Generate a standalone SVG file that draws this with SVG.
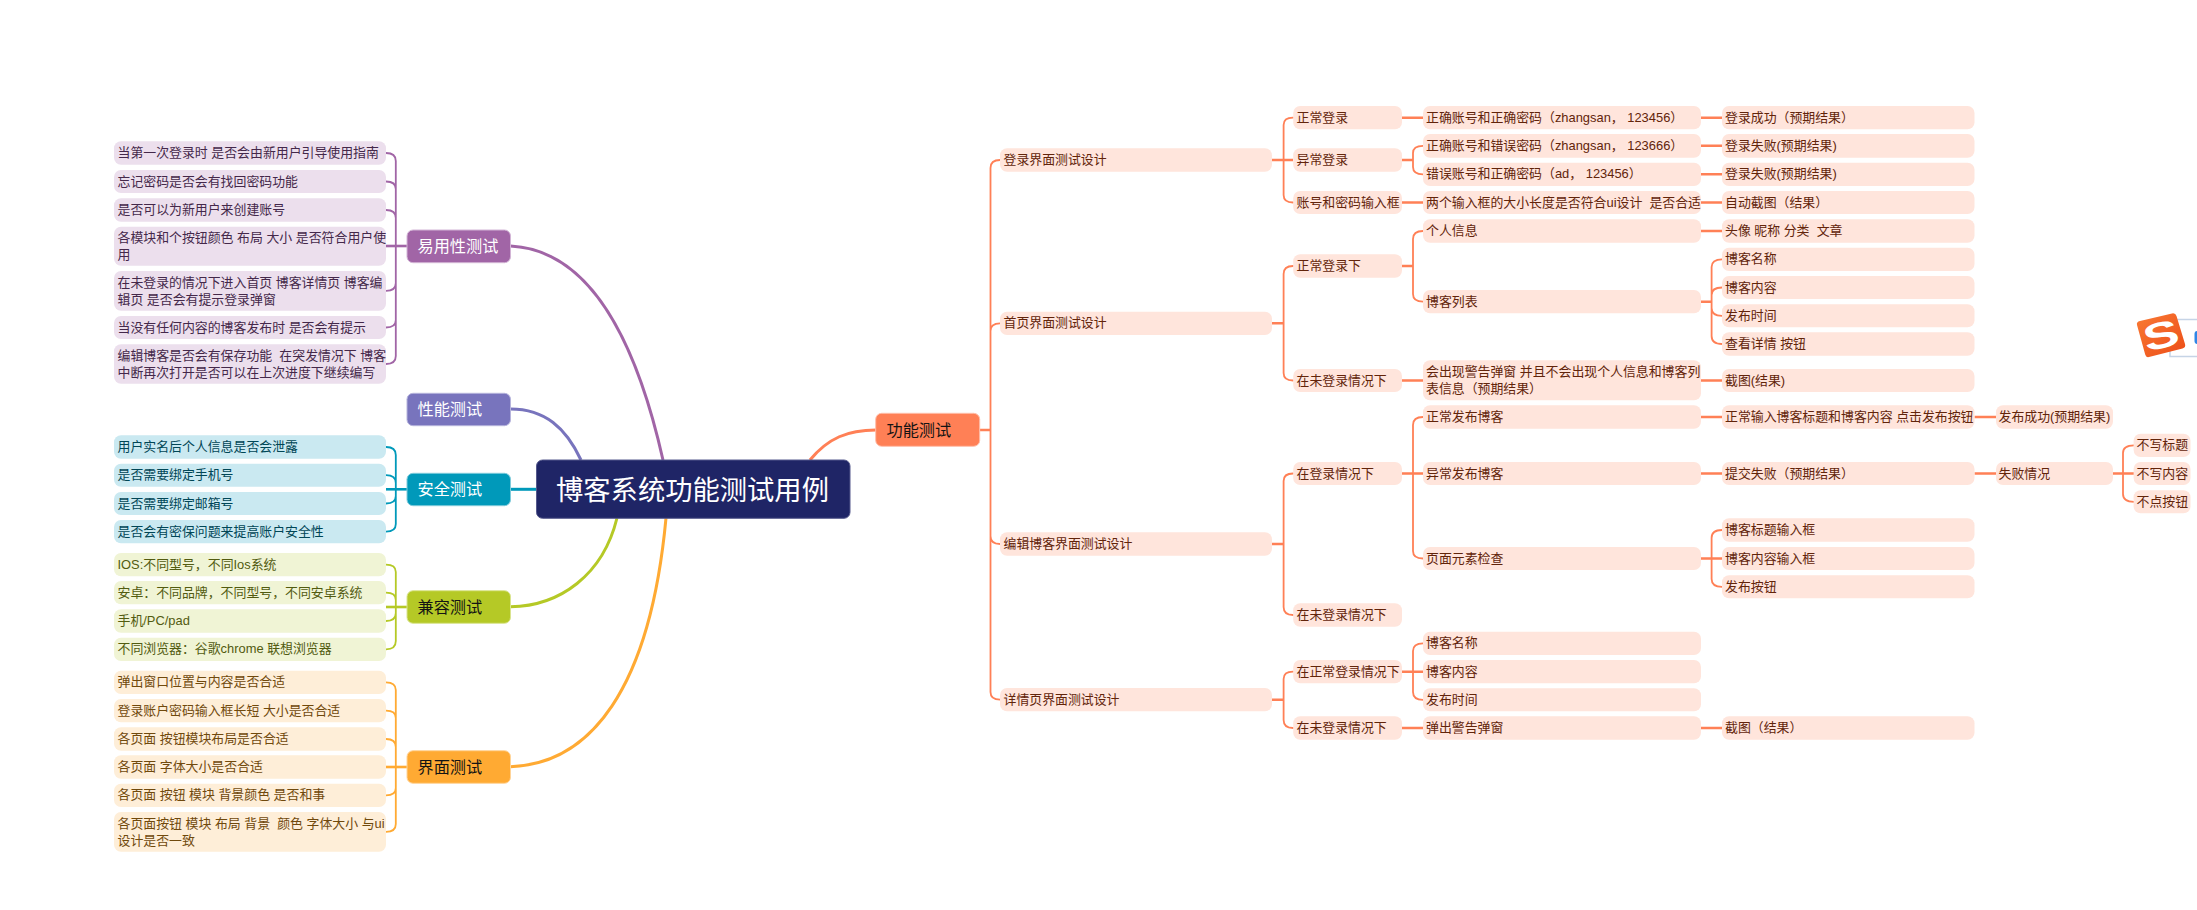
<svg xmlns="http://www.w3.org/2000/svg" width="2197" height="910" viewBox="0 0 2197 910">
<defs>
<linearGradient id="sg" x1="0" y1="0" x2="1" y2="1"><stop offset="0" stop-color="#f97a35"/><stop offset="1" stop-color="#ec4d17"/></linearGradient>
</defs>
<style>
text{font-family:"Liberation Sans","Noto Sans CJK SC",sans-serif;font-size:12.9px;white-space:pre}
rect{rx:7px;ry:7px}
.c{fill:none;stroke-width:1.8;stroke-linecap:round}
.s{fill:none;stroke-width:2.6}
.m{fill:none;stroke-width:3}
.pu{stroke:#a165a6}.pe{stroke:#7874bd}.bl{stroke:#0099ba}.gr{stroke:#b5c926}.or{stroke:#ffaa33}.re{stroke:#ff8056}
.npu rect{fill:#ecdfed}.npu text{fill:#44284a}
.nbl rect{fill:#cae9f1}.nbl text{fill:#004656}
.ngr rect{fill:#f0f4d5}.ngr text{fill:#525b10}
.nor rect{fill:#feeed8}.nor text{fill:#70490c}
.nre rect{fill:#ffe5dc}.nre text{fill:#62240a}
.npu text,.nbl text,.ngr text,.nor text,.nre text,.t text{transform:translateY(-.5px)}
.t rect{rx:6px;ry:6px;stroke-width:1}
.t text{font-size:16.2px}
.w text{fill:#fff}.k text{fill:#141414}
</style>
<g id="connectors">
<path class="m pu" d="M510.5 246C590 250 636 340 663 460"/>
<path class="m pe" d="M510.5 409C545 409 566 428 581 460"/>
<path class="m bl" d="M510.5 489.3H537"/>
<path class="m gr" d="M510.5 606.7C560 606 603 575 617 518"/>
<path class="m or" d="M510.5 766.7C590 764 650 690 666 518"/>
<path class="m re" d="M810 460C828 438 848 430 876 430"/>

<g class="pu">
<path class="s pu" d="M386 246H407"/>
<path class="c pu" d="M386 153Q395.8 153 395.8 161V356Q395.8 364 386 364M386 181.5Q395.8 181.5 395.8 189M386 210Q395.8 210 395.8 218M386 290.8Q395.8 290.8 395.8 283M386 327.5Q395.8 327.5 395.8 320"/>
<path class="s bl" d="M386 489.3H407"/>
<path class="c bl" d="M386 447Q395.8 447 395.8 455V524Q395.8 531.7 386 531.7M386 475.2Q395.8 475.2 395.8 483M386 503.5Q395.8 503.5 395.8 496"/>
<path class="s gr" d="M386 607H407"/>
<path class="c gr" d="M386 564.7Q395.8 564.7 395.8 572V641Q395.8 649.3 386 649.3M386 592.7Q395.8 592.7 395.8 600M386 621Q395.8 621 395.8 613"/>
<path class="s or" d="M386 767H407"/>
<path class="c or" d="M386 682.3Q395.8 682.3 395.8 690V824Q395.8 831.8 386 831.8M386 710.7Q395.8 710.7 395.8 718M386 739Q395.8 739 395.8 747M386 795.3Q395.8 795.3 395.8 788"/>
</g>
<g class="re">
<path class="s re" d="M980 430H990.5M1272 160H1293M1272 323.3H1283.6M1272 544H1283.6M1272 699.7H1283.6M1402 117.7H1423M1402 160H1413M1402 202.5H1423M1402 266H1413M1402 380.5H1423M1402 473.5H1423M1402 671.7H1423M1402 728H1423M1701 117.7H1722M1701 145.8H1722M1701 174.3H1722M1701 202.5H1722M1701 231H1722M1701 301.7H1711.6M1701 380.5H1722M1701 417H1722M1701 473.5H1722M1701 558.5H1722M1701 728H1722M1974.5 417H1996M1974.5 473.5H1996M2113 473.5H2134"/>
<path class="c re" d="M1000 160Q990.5 160 990.5 168V692Q990.5 699.7 1000 699.7M1000 323.3Q990.5 323.3 990.5 331M1000 544Q990.5 544 990.5 536"/>
<path class="c re" d="M1293 117.7Q1283.6 117.7 1283.6 125V195Q1283.6 202.5 1293 202.5M1293 266Q1283.6 266 1283.6 274V373Q1283.6 380.5 1293 380.5M1293 473.5Q1283.6 473.5 1283.6 481V607Q1283.6 615 1293 615M1293 671.7Q1283.6 671.7 1283.6 679V720Q1283.6 728 1293 728"/>
<path class="c re" d="M1423 145.8Q1413 145.8 1413 153V167Q1413 174.3 1423 174.3M1423 231Q1413 231 1413 239V294Q1413 301.7 1423 301.7M1423 417Q1413 417 1413 425V551Q1413 558.5 1423 558.5M1423 643.3Q1413 643.3 1413 651V692Q1413 699.8 1423 699.8"/>
<path class="c re" d="M1722 259.3Q1711.6 259.3 1711.6 267V336Q1711.6 344 1722 344M1722 287.5Q1711.6 287.5 1711.6 295M1722 315.8Q1711.6 315.8 1711.6 308M1722 530Q1711.6 530 1711.6 538V579Q1711.6 586.8 1722 586.8"/>
<path class="c re" d="M2134 445.3Q2123 445.3 2123 453V494Q2123 501.8 2134 501.8"/>
</g>
</g>

<g id="root"><rect x="536.5" y="460" width="313.5" height="58.3" fill="#1f2566" stroke="#55598c" style="rx:6px;ry:6px"/><text x="556" y="500" fill="#fff" style="font-size:27.3px">博客系统功能测试用例</text></g>

<g id="t-usability" class="t w"><rect x="407" y="230" width="103.5" height="32.7" fill="#a165a6" stroke="#d3b5d6"/><text x="417.5" y="252">易用性测试</text></g>
<g id="t-performance" class="t w"><rect x="407" y="393.3" width="103.5" height="32.4" fill="#7874bd" stroke="#b6b4dc"/><text x="417.5" y="415.5">性能测试</text></g>
<g id="t-security" class="t w"><rect x="407" y="473.3" width="103.5" height="32.4" fill="#0099ba" stroke="#7fcbdb"/><text x="417.5" y="495.5">安全测试</text></g>
<g id="t-compat" class="t k"><rect x="407" y="590.7" width="103.5" height="32.6" fill="#b5c926" stroke="#dae48f"/><text x="417.5" y="613">兼容测试</text></g>
<g id="t-ui" class="t k"><rect x="407" y="750.7" width="103.5" height="32.6" fill="#ffaa33" stroke="#ffd499"/><text x="417.5" y="773">界面测试</text></g>
<g id="t-function" class="t k"><rect x="875.7" y="413.3" width="104" height="33" fill="#ff8056" stroke="#ffbfaa"/><text x="886.5" y="436">功能测试</text></g>

<g class="npu">
<g id="u1"><rect x="114" y="141.3" width="272" height="23.4"/><text x="117.5" y="157.5">当第一次登录时 是否会由新用户引导使用指南</text></g>
<g id="u2"><rect x="114" y="170" width="272" height="23"/><text x="117.5" y="186">忘记密码是否会有找回密码功能</text></g>
<g id="u3"><rect x="114" y="198.3" width="272" height="23.4"/><text x="117.5" y="214.5">是否可以为新用户来创建账号</text></g>
<g id="u4"><rect x="114" y="226.7" width="272" height="39"/><text x="117.5" y="242.2">各模块和个按钮颜色 布局 大小 是否符合用户使</text><text x="117.5" y="259.5">用</text></g>
<g id="u5"><rect x="114" y="271" width="272" height="39.7"/><text x="117.5" y="287.2">在未登录的情况下进入首页 博客详情页 博客编</text><text x="117.5" y="304">辑页 是否会有提示登录弹窗</text></g>
<g id="u6"><rect x="114" y="316" width="272" height="23"/><text x="117.5" y="332">当没有任何内容的博客发布时 是否会有提示</text></g>
<g id="u7"><rect x="114" y="344.3" width="272" height="39.4"/><text x="117.5" y="360.5">编辑博客是否会有保存功能  在突发情况下 博客</text><text x="117.5" y="377.5">中断再次打开是否可以在上次进度下继续编写</text></g>
</g>
<g class="nbl">
<g id="s1"><rect x="114" y="435.3" width="272" height="23.4"/><text x="117.5" y="451.5">用户实名后个人信息是否会泄露</text></g>
<g id="s2"><rect x="114" y="463.7" width="272" height="23"/><text x="117.5" y="479.7">是否需要绑定手机号</text></g>
<g id="s3"><rect x="114" y="492" width="272" height="23"/><text x="117.5" y="508">是否需要绑定邮箱号</text></g>
<g id="s4"><rect x="114" y="520" width="272" height="23.3"/><text x="117.5" y="536.2">是否会有密保问题来提高账户安全性</text></g>
</g>
<g class="ngr">
<g id="c1"><rect x="114" y="553" width="272" height="23.3"/><text x="117.5" y="569.2">IOS:不同型号，不同Ios系统</text></g>
<g id="c2"><rect x="114" y="581" width="272" height="23.3"/><text x="117.5" y="597.2">安卓：不同品牌，不同型号，不同安卓系统</text></g>
<g id="c3"><rect x="114" y="609.3" width="272" height="23.4"/><text x="117.5" y="625.5">手机/PC/pad</text></g>
<g id="c4"><rect x="114" y="637.7" width="272" height="23.3"/><text x="117.5" y="653.8">不同浏览器：谷歌chrome 联想浏览器</text></g>
</g>
<g class="nor">
<g id="i1"><rect x="114" y="670.7" width="272" height="23.3"/><text x="117.5" y="686.8">弹出窗口位置与内容是否合适</text></g>
<g id="i2"><rect x="114" y="699" width="272" height="23.3"/><text x="117.5" y="715.2">登录账户密码输入框长短 大小是否合适</text></g>
<g id="i3"><rect x="114" y="727.3" width="272" height="23.4"/><text x="117.5" y="743.5">各页面 按钮模块布局是否合适</text></g>
<g id="i4"><rect x="114" y="755.3" width="272" height="23.4"/><text x="117.5" y="771.5">各页面 字体大小是否合适</text></g>
<g id="i5"><rect x="114" y="783.7" width="272" height="23.3"/><text x="117.5" y="799.8">各页面 按钮 模块 背景颜色 是否和事</text></g>
<g id="i6"><rect x="114" y="812" width="272" height="39.7"/><text x="117.5" y="828">各页面按钮 模块 布局 背景  颜色 字体大小 与ui</text><text x="117.5" y="845">设计是否一致</text></g>
</g>

<g class="nre">
<g id="a1"><rect x="1000" y="148.3" width="272" height="23.4"/><text x="1003.5" y="164.5">登录界面测试设计</text></g>
<g id="a2"><rect x="1000" y="311.7" width="272" height="23.3"/><text x="1003.5" y="327.8">首页界面测试设计</text></g>
<g id="a3"><rect x="1000" y="532.3" width="272" height="23.4"/><text x="1003.5" y="548.5">编辑博客界面测试设计</text></g>
<g id="a4"><rect x="1000" y="688" width="272" height="23.3"/><text x="1003.5" y="704.2">详情页界面测试设计</text></g>

<g id="b1"><rect x="1293.2" y="106" width="108.8" height="23.3"/><text x="1296.5" y="122.2">正常登录</text></g>
<g id="b2"><rect x="1293.2" y="148.3" width="108.8" height="23.4"/><text x="1296.5" y="164.5">异常登录</text></g>
<g id="b3"><rect x="1293.2" y="191" width="108.8" height="23"/><text x="1296.5" y="207">账号和密码输入框</text></g>
<g id="b4"><rect x="1293.2" y="254.3" width="108.8" height="23.4"/><text x="1296.5" y="270.5">正常登录下</text></g>
<g id="b5"><rect x="1293.2" y="369" width="108.8" height="23"/><text x="1296.5" y="385">在未登录情况下</text></g>
<g id="b6"><rect x="1293.2" y="462" width="108.8" height="23"/><text x="1296.5" y="478">在登录情况下</text></g>
<g id="b7"><rect x="1293.2" y="603.3" width="108.8" height="23.4"/><text x="1296.5" y="619.5">在未登录情况下</text></g>
<g id="b8"><rect x="1293.2" y="660" width="108.8" height="23.3"/><text x="1296.5" y="676.2">在正常登录情况下</text></g>
<g id="b9"><rect x="1293.2" y="716.3" width="108.8" height="23.4"/><text x="1296.5" y="732.5">在未登录情况下</text></g>

<g id="d1"><rect x="1423" y="106" width="278" height="23.3"/><text x="1426" y="122.2">正确账号和正确密码（zhangsan， 123456）</text></g>
<g id="d2"><rect x="1423" y="134" width="278" height="23.7"/><text x="1426" y="150.3">正确账号和错误密码（zhangsan， 123666）</text></g>
<g id="d3"><rect x="1423" y="162.7" width="278" height="23.3"/><text x="1426" y="178.8">错误账号和正确密码（ad， 123456）</text></g>
<g id="d4"><rect x="1423" y="191" width="278" height="23"/><text x="1426" y="207">两个输入框的大小长度是否符合ui设计  是否合适</text></g>
<g id="d5"><rect x="1423" y="219.3" width="278" height="23.4"/><text x="1426" y="235.5">个人信息</text></g>
<g id="d6"><rect x="1423" y="290" width="278" height="23.3"/><text x="1426" y="306.2">博客列表</text></g>
<g id="d7"><rect x="1423" y="360.3" width="278" height="40"/><text x="1426" y="376.5">会出现警告弹窗 并且不会出现个人信息和博客列</text><text x="1426" y="393.5">表信息（预期结果）</text></g>
<g id="d8"><rect x="1423" y="405.3" width="278" height="23.4"/><text x="1426" y="421.5">正常发布博客</text></g>
<g id="d9"><rect x="1423" y="462" width="278" height="23"/><text x="1426" y="478">异常发布博客</text></g>
<g id="d10"><rect x="1423" y="547" width="278" height="23"/><text x="1426" y="563">页面元素检查</text></g>
<g id="d11"><rect x="1423" y="631.7" width="278" height="23.3"/><text x="1426" y="647.8">博客名称</text></g>
<g id="d12"><rect x="1423" y="660" width="278" height="23.3"/><text x="1426" y="676.2">博客内容</text></g>
<g id="d13"><rect x="1423" y="688.3" width="278" height="23"/><text x="1426" y="704.3">发布时间</text></g>
<g id="d14"><rect x="1423" y="716.3" width="278" height="23.4"/><text x="1426" y="732.5">弹出警告弹窗</text></g>

<g id="e1"><rect x="1722" y="106" width="252.5" height="23.3"/><text x="1725" y="122.2">登录成功（预期结果）</text></g>
<g id="e2"><rect x="1722" y="134" width="252.5" height="23.7"/><text x="1725" y="150.3">登录失败(预期结果)</text></g>
<g id="e3"><rect x="1722" y="162.7" width="252.5" height="23.3"/><text x="1725" y="178.8">登录失败(预期结果)</text></g>
<g id="e4"><rect x="1722" y="191" width="252.5" height="23"/><text x="1725" y="207">自动截图（结果）</text></g>
<g id="e5"><rect x="1722" y="219.3" width="252.5" height="23.4"/><text x="1725" y="235.5">头像 昵称 分类  文章</text></g>
<g id="e6"><rect x="1722" y="247.7" width="252.5" height="23.3"/><text x="1725" y="263.8">博客名称</text></g>
<g id="e7"><rect x="1722" y="276" width="252.5" height="23"/><text x="1725" y="292">博客内容</text></g>
<g id="e8"><rect x="1722" y="304.3" width="252.5" height="23"/><text x="1725" y="320.3">发布时间</text></g>
<g id="e9"><rect x="1722" y="332.3" width="252.5" height="23.4"/><text x="1725" y="348.5">查看详情 按钮</text></g>
<g id="e10"><rect x="1722" y="369" width="252.5" height="23"/><text x="1725" y="385">截图(结果)</text></g>
<g id="e11"><rect x="1722" y="405.3" width="252.5" height="23.4"/><text x="1725" y="421.5">正常输入博客标题和博客内容 点击发布按钮</text></g>
<g id="e12"><rect x="1722" y="462" width="252.5" height="23"/><text x="1725" y="478">提交失败（预期结果）</text></g>
<g id="e13"><rect x="1722" y="518.3" width="252.5" height="23.4"/><text x="1725" y="534.5">博客标题输入框</text></g>
<g id="e14"><rect x="1722" y="547" width="252.5" height="23"/><text x="1725" y="563">博客内容输入框</text></g>
<g id="e15"><rect x="1722" y="575.3" width="252.5" height="23"/><text x="1725" y="591.3">发布按钮</text></g>
<g id="e16"><rect x="1722" y="716.3" width="252.5" height="23.4"/><text x="1725" y="732.5">截图（结果）</text></g>

<g id="f1"><rect x="1996" y="405.3" width="117" height="23.4"/><text x="1998.5" y="421.5">发布成功(预期结果)</text></g>
<g id="f2"><rect x="1996" y="462" width="117" height="23"/><text x="1998.5" y="478">失败情况</text></g>

<g id="h1"><rect x="2133.6" y="433.7" width="56.9" height="23.3"/><text x="2136.5" y="449.8">不写标题</text></g>
<g id="h2"><rect x="2133.6" y="462" width="56.9" height="23"/><text x="2136.5" y="478">不写内容</text></g>
<g id="h3"><rect x="2133.6" y="490.3" width="56.9" height="23"/><text x="2136.5" y="506.3">不点按钮</text></g>
</g>

<g id="ime">
<path d="M2170 319.5H2198V356.5H2170Z" fill="#fff" stroke="#c6d4e6" stroke-width="1.5"/>
<rect x="2194.5" y="331" width="6" height="13" fill="#2f86e6" style="rx:3px;ry:3px"/>
<path d="M2140 321L2172 313.5Q2175.5 312.8 2176.5 316L2185 344Q2186 347.5 2182.5 348.5L2149 357Q2146 357.8 2145.2 354.5L2137 325Q2136.2 321.8 2140 321Z" fill="url(#sg)"/>
<text x="0" y="13" text-anchor="middle" transform="translate(2161 335) rotate(-14) scale(1.45 1)" fill="#fff" style="font-size:37px;font-weight:700">S</text>
</g>
</svg>
